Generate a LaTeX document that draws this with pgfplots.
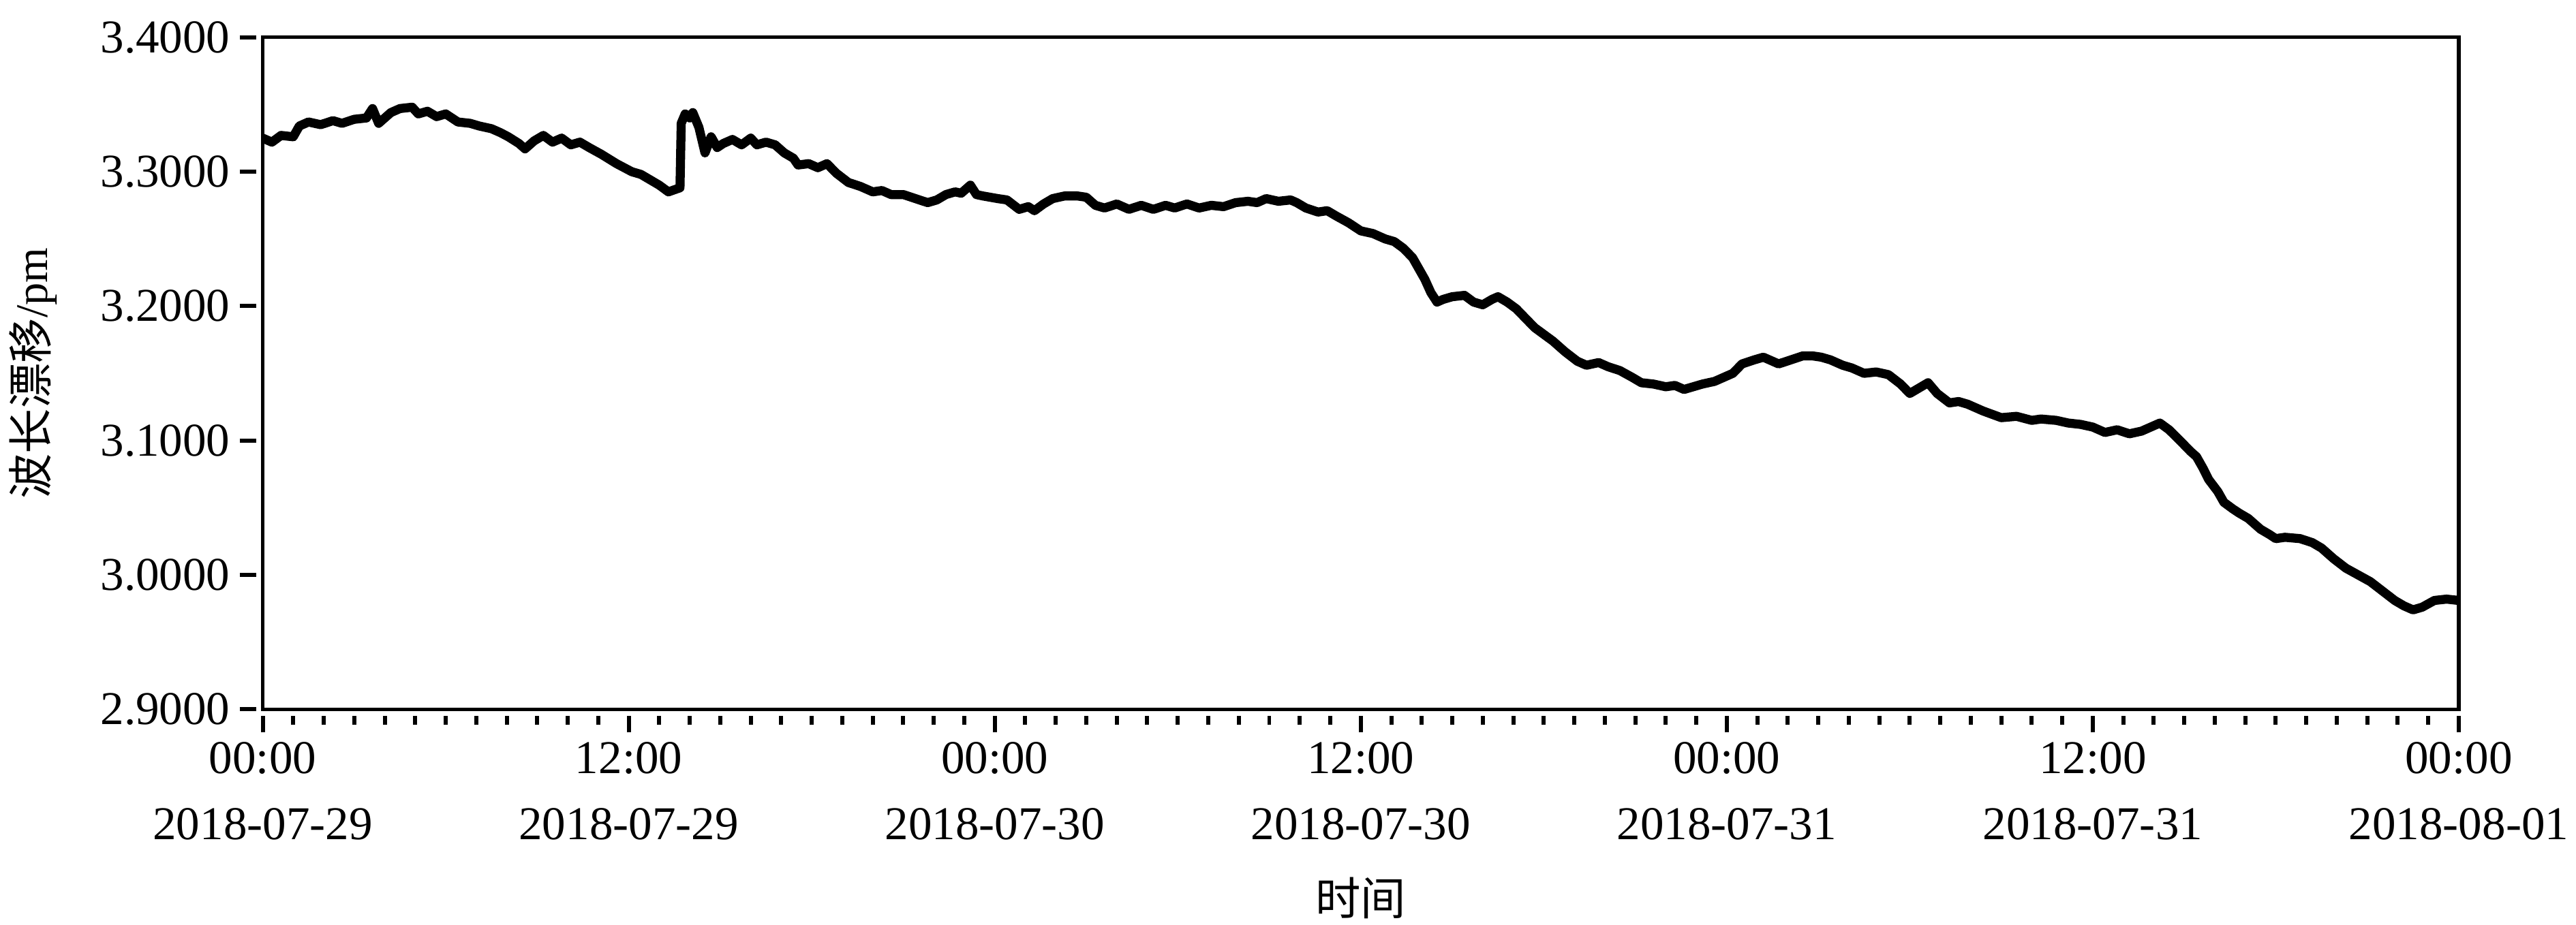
\documentclass[border=0pt]{standalone}
\usepackage{pgfplots}
\pgfplotsset{compat=1.18}
\usepackage{fontspec}
\setmainfont{Liberation Serif}
\newfontfamily\cjk{Noto Sans CJK SC}
\pgfplotstableread{
h v
0 3.325
0.3 3.322
0.6 3.327
1.0 3.326
1.2 3.334
1.5 3.337
1.9 3.335
2.3 3.338
2.6 3.336
3.0 3.339
3.4 3.340
3.6 3.347
3.8 3.336
4.2 3.344
4.5 3.347
4.9 3.348
5.1 3.343
5.4 3.345
5.7 3.341
6.0 3.343
6.4 3.337
6.8 3.336
7.1 3.334
7.5 3.332
7.8 3.329
8.05 3.326
8.4 3.321
8.6 3.317
8.9 3.323
9.2 3.327
9.5 3.322
9.8 3.325
10.1 3.320
10.4 3.322
10.7 3.318
11.1 3.313
11.6 3.306
12.1 3.300
12.4 3.298
12.7 3.294
13.0 3.290
13.3 3.285
13.55 3.287
13.68 3.288
13.72 3.336
13.85 3.343
14.0 3.340
14.1 3.344
14.3 3.333
14.5 3.314
14.7 3.326
14.9 3.318
15.1 3.321
15.4 3.324
15.7 3.320
16.0 3.325
16.2 3.320
16.5 3.322
16.8 3.320
17.1 3.314
17.4 3.310
17.55 3.305
17.9 3.306
18.2 3.303
18.5 3.306
18.8 3.299
19.2 3.292
19.6 3.289
20.0 3.285
20.3 3.286
20.6 3.283
21.0 3.283
21.4 3.280
21.8 3.277
22.1 3.279
22.4 3.283
22.7 3.285
22.9 3.284
23.2 3.290
23.4 3.283
23.6 3.282
24.1 3.280
24.4 3.279
24.8 3.272
25.1 3.274
25.3 3.271
25.6 3.276
25.9 3.280
26.3 3.282
26.7 3.282
27.0 3.281
27.3 3.275
27.6 3.273
28.0 3.276
28.4 3.272
28.8 3.275
29.2 3.272
29.6 3.275
29.9 3.273
30.3 3.276
30.7 3.273
31.1 3.275
31.5 3.274
31.9 3.277
32.3 3.278
32.6 3.277
32.9 3.280
33.3 3.278
33.7 3.279
33.9 3.277
34.2 3.273
34.6 3.270
34.9 3.271
35.2 3.267
35.6 3.262
36.0 3.256
36.4 3.254
36.8 3.250
37.1 3.248
37.4 3.243
37.7 3.236
37.9 3.228
38.1 3.220
38.3 3.210
38.5 3.203
38.7 3.205
39.0 3.207
39.4 3.208
39.7 3.203
40.0 3.201
40.3 3.205
40.5 3.207
40.8 3.203
41.1 3.198
41.4 3.191
41.7 3.184
42.0 3.179
42.3 3.174
42.7 3.166
43.1 3.159
43.4 3.156
43.8 3.158
44.1 3.155
44.5 3.152
44.9 3.147
45.2 3.143
45.6 3.142
46.0 3.140
46.3 3.141
46.6 3.138
46.9 3.140
47.2 3.142
47.6 3.144
47.9 3.147
48.2 3.150
48.5 3.157
48.9 3.160
49.2 3.162
49.5 3.159
49.7 3.157
50.1 3.160
50.5 3.163
50.8 3.163
51.1 3.162
51.4 3.160
51.8 3.156
52.1 3.154
52.5 3.150
52.9 3.151
53.3 3.149
53.7 3.142
54.0 3.135
54.3 3.139
54.6 3.143
54.9 3.135
55.3 3.128
55.6 3.129
55.9 3.127
56.4 3.122
57.0 3.117
57.5 3.118
58.0 3.115
58.3 3.116
58.8 3.115
59.2 3.113
59.6 3.112
60.0 3.110
60.4 3.106
60.8 3.108
61.2 3.105
61.6 3.107
61.9 3.110
62.2 3.113
62.5 3.108
62.9 3.099
63.2 3.092
63.4 3.088
63.6 3.080
63.8 3.071
64.1 3.062
64.3 3.054
64.6 3.049
64.8 3.046
65.1 3.042
65.5 3.034
65.8 3.030
66.0 3.027
66.3 3.028
66.8 3.027
67.2 3.024
67.5 3.020
67.9 3.012
68.3 3.005
68.7 3.000
69.1 2.995
69.5 2.988
69.9 2.981
70.2 2.977
70.5 2.974
70.8 2.976
71.2 2.981
71.6 2.982
72.0 2.981
}\drift
\begin{document}
\begin{tikzpicture}
\begin{axis}[
  scale only axis, width=17.05cm, height=5.22cm,
  xmin=0, xmax=72, ymin=2.9, ymax=3.4,
  axis line style={line width=0.8pt},
  tick align=outside, tick pos=left,
  xtick={0,12,24,36,48,60,72}, minor x tick num=11,
  ytick={2.9,3.0,3.1,3.2,3.3,3.4},
  major tick length=0.13cm, minor tick length=0.07cm,
  xtick style={line width=0.9pt, black, yshift=-0.05cm},
  ytick style={line width=0.9pt, black, xshift=-0.05cm},
  xticklabels={{00:00\\2018-07-29},{12:00\\2018-07-29},{00:00\\2018-07-30},{12:00\\2018-07-30},{00:00\\2018-07-31},{12:00\\2018-07-31},{00:00\\2018-08-01}},
  xticklabel style={align=center},
  yticklabel style={/pgf/number format/.cd, fixed, fixed zerofill, precision=4, assume math mode=true},
  tick label style={font=\fontsize{10.4}{14.6}\selectfont},
  label style={font=\fontsize{10.4}{14.6}\selectfont},
  every axis y label/.style={at={(axis description cs:-0.1045,0.5)}, rotate=90, anchor=center},
  every axis x label/.style={at={(axis description cs:0.5,-0.2813)}, anchor=center},
  ylabel={{\cjk 波长漂移}/pm},
  xlabel={{\cjk 时间}},
]
\addplot[black, line width=2pt, line join=round, mark=none] table[x=h, y=v] {\drift};
\end{axis}
\pgfresetboundingbox
\path[use as bounding box] (-2.04cm,-1.672cm) rectangle (17.96cm,5.51cm);
\end{tikzpicture}
\end{document}
